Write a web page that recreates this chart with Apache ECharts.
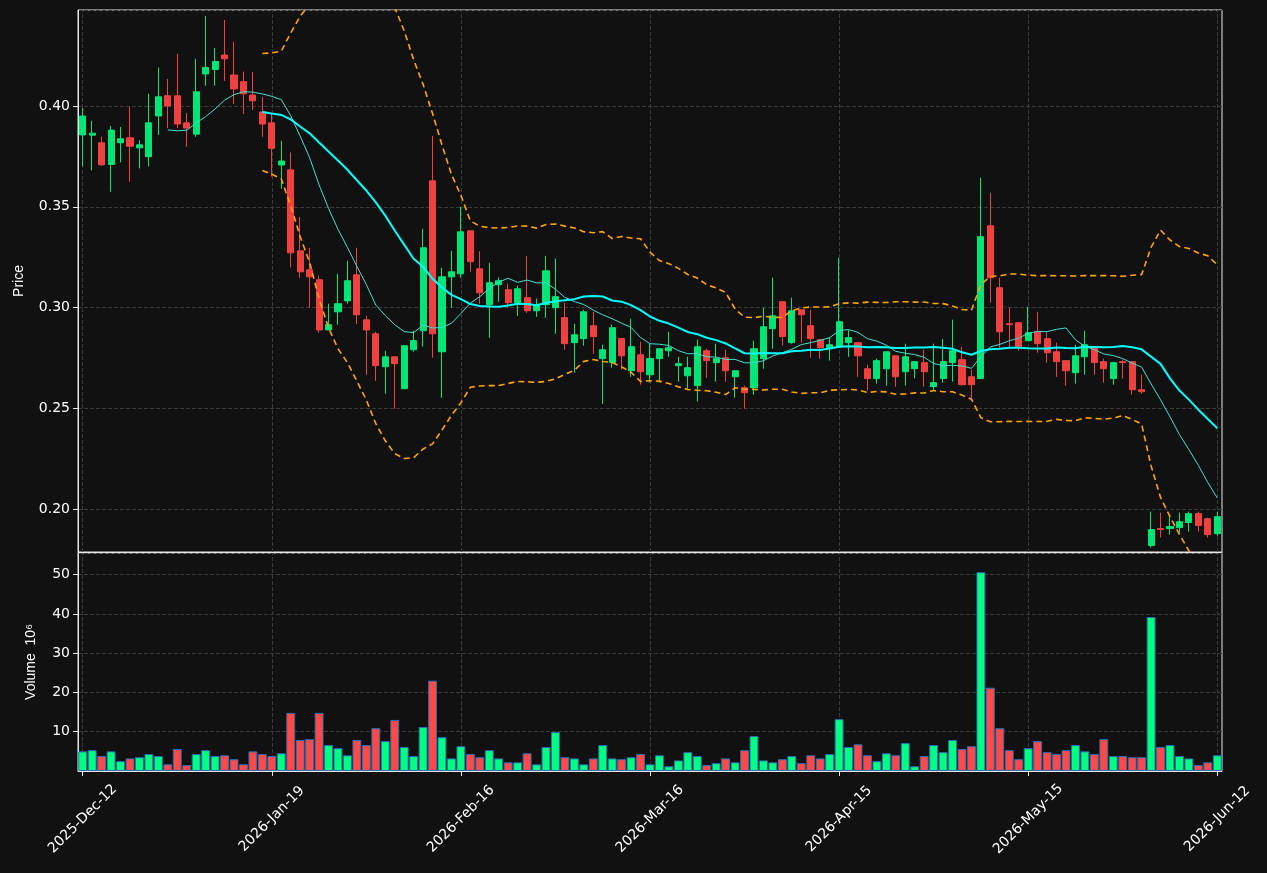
<!DOCTYPE html>
<html>
<head>
<meta charset="utf-8">
<script src="https://cdn.jsdelivr.net/npm/echarts@6/dist/echarts.min.js"></script>
<style>
  html, body { margin: 0; padding: 0; background: #111111; }
  #chart { width: 1267px; height: 873px; }
</style>
</head>
<body>
<div id="chart"></div>
<script>
'use strict'

var tickLabels = ['2025-Dec-12', '2026-Jan-19', '2026-Feb-16', '2026-Mar-16', '2026-Apr-15', '2026-May-15', '2026-Jun-12'];
var tickIndex = [0, 20, 40, 60, 80, 100, 120];

var opens = [.3856,.3855,.3817,.371,.3817,.3842,.3792,.3748,.395,.405,.405,.3916,.386,.4158,.418,.4252,.4153,.412,.4054,.397,
  .3916,.3707,.3683,.3282,.3188,.3139,.289,.298,.3034,.3163,.294,.2871,.2708,.2757,.2599,.2792,.2886,.3629,.2782,.3153,
  .3168,.3381,.3193,.3015,.3114,.3089,.3025,.305,.2985,.3015,.300,.2951,.2827,.2847,.2911,.2748,.2728,.2847,.2688,.2767,
  .2668,.2748,.2787,.2713,.2663,.2614,.2787,.2728,.2752,.2658,.2604,.2604,.2748,.2896,.303,.2827,.299,.2911,.2842,.2802,
  .2807,.2827,.2827,.2698,.2649,.2698,.2762,.2683,.2698,.2728,.2609,.2649,.2728,.2743,.2658,.2649,.3406,.3099,.2921,.2926,
  .2837,.2881,.2847,.2782,.2738,.2678,.2757,.2802,.2733,.2649,.2733,.2733,.2594,.1822,.1906,.1906,.1911,.1936,.198,.1955,.1881];
var closes = [.395,.3865,.3708,.388,.3837,.380,.3807,.3916,.4045,.400,.391,.389,.407,.419,.422,.4233,.4084,.406,.4025,.391,
  .379,.3727,.3272,.3178,.3153,.289,.2916,.302,.3134,.2965,.289,.2713,.2757,.2723,.2812,.2837,.3297,.2871,.3153,.3178,
  .3376,.3228,.3074,.3124,.3134,.3025,.3094,.2985,.3015,.3183,.3055,.2822,.2866,.298,.2857,.2792,.2901,.2762,.2807,.2683,
  .2748,.2797,.2802,.2723,.2703,.2807,.2738,.2748,.2688,.2688,.2579,.2797,.2906,.296,.2857,.2985,.2965,.2847,.2802,.2817,
  .2931,.2852,.2762,.2649,.2738,.2782,.2658,.2757,.2733,.2683,.2629,.2733,.2787,.2619,.2619,.3352,.3148,.2881,.2916,.2807,
  .2876,.2822,.2777,.2733,.2688,.2762,.2817,.2728,.2698,.2728,.2728,.2594,.2584,.1901,.1901,.1916,.194,.198,.1921,.1876,.1965];
var lows = [.370,.368,.3703,.3574,.372,.3624,.369,.370,.3856,.389,.389,.3797,.3847,.41,.41,.4124,.401,.396,.398,.3847,
  .365,.359,.32,.3148,.30,.2876,.289,.2916,.302,.292,.2668,.2638,.2574,.25,.2599,.2782,.2807,.2752,.2554,.30,
  .3148,.3178,.302,.2851,.303,.30,.296,.2975,.2955,.295,.2871,.2792,.2678,.2812,.2772,.2524,.2703,.2693,.2658,.2619,
  .2629,.2629,.2757,.2634,.26,.2535,.2653,.2634,.2634,.2554,.25,.257,.2698,.2797,.2812,.2822,.2827,.2752,.2747,.2738,
  .2802,.2757,.2658,.259,.2624,.2614,.2609,.2614,.265,.2609,.2594,.2629,.2634,.2614,.2544,.2649,.3025,.28,.2807,.2787,
  .2837,.2777,.2728,.2658,.2614,.2624,.2668,.2668,.2629,.2619,.2649,.257,.2574,.1812,.1862,.1876,.1886,.1891,.1891,.1861,.1871];
var highs = [.399,.3926,.3847,.390,.3896,.3995,.383,.406,.419,.4134,.4257,.3965,.4233,.4445,.4287,.4425,.4317,.417,.4168,.4045,
  .396,.3827,.377,.345,.3297,.316,.302,.3168,.3233,.3297,.296,.288,.2787,.2757,.2812,.2886,.3391,.3851,.3198,.3282,
  .35,.3381,.328,.3223,.315,.312,.311,.3257,.3045,.3257,.3243,.3025,.2921,.299,.298,.2817,.2916,.2847,.2946,.2832,
  .2822,.2797,.2881,.2757,.2757,.2842,.2797,.2822,.2792,.2688,.2614,.2837,.30,.3149,.303,.305,.299,.299,.2842,.2856,
  .3248,.2891,.2827,.2718,.2748,.2782,.2762,.2822,.2733,.2792,.2822,.2846,.2941,.2807,.2693,.3644,.357,.3149,.30,.2926,
  .3005,.298,.2881,.2827,.2738,.2817,.2886,.2802,.2748,.2733,.2743,.2733,.2668,.199,.1985,.197,.1985,.199,.199,.196,.199];
// volume in millions
var volumes = [5.0,5.3,3.8,5.0,2.5,3.2,3.5,4.3,3.8,1.7,5.6,1.5,4.3,5.3,3.8,4.0,3.0,1.7,5.0,4.3,
  3.8,4.5,14.8,7.9,8.1,14.8,6.6,5.8,4.0,7.9,6.6,10.9,7.6,13.0,6.1,3.8,11.2,23.0,8.6,3.2,
  6.3,4.3,3.5,5.3,3.2,2.2,2.2,4.5,1.7,6.1,9.9,3.5,3.2,1.7,3.2,6.6,3.2,3.0,3.5,4.3,
  1.7,4.0,1.2,2.7,4.8,3.8,1.5,2.0,3.2,2.2,5.3,8.9,2.7,2.2,3.0,3.8,2.0,4.0,3.2,4.3,
  13.2,6.1,6.8,4.0,2.5,4.5,4.0,7.1,1.2,3.8,6.6,4.8,7.9,5.6,6.3,50.6,21.2,10.9,5.3,3.0,
  5.8,7.6,4.8,4.3,5.3,6.6,5.0,4.3,8.1,3.8,3.8,3.5,3.5,39.2,6.1,6.6,3.8,3.2,1.5,2.2,4.0];

var categories = closes.map(function (c, i) { return String(i); });

function sma(n) {
  return closes.map(function (c, i) {
    if (i < n - 1) return null;
    var s = 0;
    for (var k = i - n + 1; k <= i; k++) s += closes[k];
    return +(s / n).toFixed(5);
  });
}
function band(n, mult) {
  var m = sma(n);
  return closes.map(function (c, i) {
    if (i < n - 1) return null;
    var v = 0;
    for (var k = i - n + 1; k <= i; k++) v += Math.pow(closes[k] - m[i], 2);
    return +(m[i] + mult * Math.sqrt(v / (n - 1))).toFixed(5);
  });
}

var candleData = closes.map(function (c, i) { return [opens[i], c, lows[i], highs[i]]; });
var volData = volumes.map(function (v, i) {
  var up = closes[i] >= opens[i];
  return { value: v, itemStyle: { color: up ? '#00ff80' : '#ff4848' } };
});

// vertical grid lines at the dated candles, kept behind the marks
var vLines = {
  silent: true, symbol: 'none', label: { show: false }, z: 0,
  lineStyle: { color: '#3a3a3a', type: 'dashed', width: 1 },
  data: tickIndex.map(function (i) { return { xAxis: String(i) }; })
};

var gridLine = { show: true, lineStyle: { color: '#3a3a3a', type: 'dashed' } };
var frame = { show: true, onZero: false, lineStyle: { color: '#e8e8e8' } };
var label = { color: '#ffffff', fontSize: 14, fontFamily: 'DejaVu Sans' };
var isTick = function (i) { return i % 20 === 0; };

var chart = echarts.init(document.getElementById('chart'));
chart.setOption({
  backgroundColor: '#111111',
  animation: false,
  grid: [
    { left: 78, right: 45, top: 10, height: 542, show: true, borderColor: '#e8e8e8', borderWidth: 1 },
    { left: 78, right: 45, top: 553, height: 218, show: true, borderColor: '#e8e8e8', borderWidth: 1 }
  ],
  xAxis: [
    { type: 'category', gridIndex: 0, data: categories, axisLine: frame,
      axisTick: { show: false }, axisLabel: { show: false }, splitLine: { show: false } },
    { type: 'category', gridIndex: 1, data: categories, axisLine: frame,
      axisTick: { show: true, alignWithLabel: true, interval: isTick, lineStyle: { color: '#e8e8e8' } },
      axisLabel: Object.assign({ rotate: 45, interval: isTick, align: 'center', verticalAlign: 'middle', margin: 48,
        formatter: function (v, i) { return tickLabels[i / 20] || ''; } }, label),
      splitLine: { show: false } }
  ],
  yAxis: [
    { type: 'value', gridIndex: 0, min: 0.179, max: 0.4475, axisLine: frame, axisTick: { show: true, lineStyle: { color: '#e8e8e8' } },
      axisLabel: Object.assign({ showMinLabel: false, showMaxLabel: false, formatter: function (v) { return v.toFixed(2); } }, label),
      splitLine: gridLine, name: 'Price', nameLocation: 'middle', nameGap: 52, nameRotate: 90,
      nameTextStyle: { color: '#ffffff', fontSize: 14 } },
    { type: 'value', gridIndex: 1, min: 0, max: 55.5, interval: 10, axisLine: frame, axisTick: { show: true, lineStyle: { color: '#e8e8e8' } },
      axisLabel: Object.assign({ showMinLabel: false, showMaxLabel: false }, label),
      splitLine: gridLine, name: 'Volume  10\u2076', nameLocation: 'middle', nameGap: 40, nameRotate: 90,
      nameTextStyle: { color: '#ffffff', fontSize: 14 } }
  ],
  series: [
    { name: 'OHLC', type: 'candlestick', xAxisIndex: 0, yAxisIndex: 0, data: candleData, barWidth: '70%',
      itemStyle: { color: '#00e676', color0: '#f04040', borderColor: '#00e676', borderColor0: '#f04040', borderWidth: 1 },
      markLine: vLines },
    { name: 'SMA10', type: 'line', data: sma(10), showSymbol: false,
      lineStyle: { color: '#40e0d0', width: 1 } },
    { name: 'SMA20', type: 'line', data: sma(20), showSymbol: false,
      lineStyle: { color: '#00ffff', width: 2 } },
    { name: 'Upper', type: 'line', data: band(20, 2), showSymbol: false,
      lineStyle: { color: '#ffa500', width: 1.6, type: [6, 4] } },
    { name: 'Lower', type: 'line', data: band(20, -2), showSymbol: false,
      lineStyle: { color: '#ffa500', width: 1.6, type: [6, 4] } },
    { name: 'Volume', type: 'bar', xAxisIndex: 1, yAxisIndex: 1, data: volData, barCategoryGap: '6%',
      itemStyle: { borderColor: '#2a6fb0', borderWidth: 1 }, markLine: vLines }
  ]
});
</script>
</body>
</html>
